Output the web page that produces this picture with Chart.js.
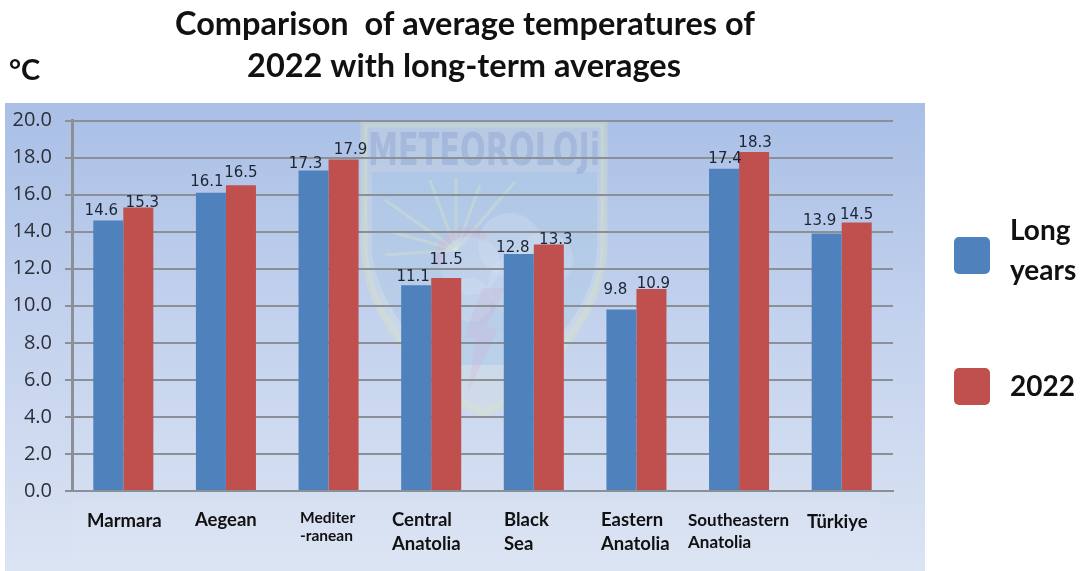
<!DOCTYPE html>
<html>
<head>
<meta charset="utf-8">
<title>Average temperatures 2022</title>
<script src="https://cdn.jsdelivr.net/npm/chart.js@4"></script>
<style>
  html, body { margin: 0; padding: 0; background: #fff; }
  #wrap { width: 1087px; height: 571px; }
</style>
</head>
<body>
<div id="wrap"><canvas id="bar-chart-grouped" width="1087" height="571"></canvas></div>
<script>
const categories = ["Marmara", "Aegean", "Mediter-ranean", "Central Anatolia", "Black Sea", "Eastern Anatolia", "Southeastern Anatolia", "Türkiye"];
const longYears = [14.6, 16.1, 17.3, 11.1, 12.8, 9.8, 17.4, 13.9];
const year2022 = [15.3, 16.5, 17.9, 11.5, 13.3, 10.9, 18.3, 14.5];
const seriesNames = ["Long years", "2022"];
const titleLines = ["Comparison  of average temperatures of", "2022 with long-term averages"];
const unitLabel = "°C";

const TEXT = "#111";
const LABEL_FONT = "Lato, sans-serif";

// hand-placed category captions, some wrap and some are smaller
const captions = [
  { lines: ["Marmara"], x: 87, y: [527], size: 18.5 },
  { lines: ["Aegean"], x: 195, y: [526], size: 18.5 },
  { lines: ["Mediter", "-ranean"], x: 300, y: [523, 541], size: 15.5 },
  { lines: ["Central", "Anatolia"], x: 392, y: [526, 550], size: 18.5 },
  { lines: ["Black", "Sea"], x: 504, y: [526, 550], size: 18.5 },
  { lines: ["Eastern", "Anatolia"], x: 601, y: [526, 550], size: 18.5 },
  { lines: ["Southeastern", "Anatolia"], x: 688, y: [526, 548], size: 17 },
  { lines: ["Türkiye"], x: 807, y: [528], size: 18.5 }
];

// value labels sit off the bar centre so neighbours don't collide
const labelNudgeX = [
  [-7, -4, -8, -3, -6, -6, 1, -7],
  [4, 0, 7, 0, 7, 2, 1, 0]
];
const labelLift = [
  [6, 7, 3, 4, 2, 15, 6, 9],
  [1, 8, 5, 14, 1, 1, 5, 3]
];

function drawPanel(ctx) {
  const g = ctx.createLinearGradient(0, 103, 0, 571);
  g.addColorStop(0, "#a9bfe6");
  g.addColorStop(0.45, "#c2d1ed");
  g.addColorStop(1, "#dbe4f3");
  ctx.fillStyle = g;
  ctx.fillRect(5, 103, 920, 468);
  ctx.fillStyle = "rgba(255,255,255,0.05)";
  ctx.fillRect(72, 500, 806, 58);
}

function drawEmblem(ctx) {
  ctx.save();
  const shield = new Path2D("M364 124 L604 124 L604 250 C600 320 540 385 484 415 C428 385 368 320 364 250 Z");
  ctx.fillStyle = "rgba(225,232,215,0.22)";
  ctx.fill(shield);
  ctx.strokeStyle = "rgba(222,228,190,0.35)";
  ctx.lineWidth = 7;
  ctx.stroke(shield);

  // sky behind the sun
  ctx.fillStyle = "rgba(150,190,235,0.30)";
  ctx.beginPath();
  ctx.moveTo(372, 172);
  ctx.lineTo(597, 172);
  ctx.lineTo(597, 250);
  ctx.bezierCurveTo(594, 300, 560, 340, 530, 365);
  ctx.lineTo(440, 365);
  ctx.bezierCurveTo(400, 330, 375, 290, 372, 250);
  ctx.closePath();
  ctx.fill();

  // rays
  ctx.strokeStyle = "rgba(232,236,190,0.28)";
  ctx.lineWidth = 3;
  [[385, 200], [430, 180], [456, 178], [480, 185], [515, 182], [392, 232], [385, 255]].forEach(p => {
    ctx.beginPath();
    ctx.moveTo(456, 250);
    ctx.lineTo(p[0], p[1]);
    ctx.stroke();
  });

  // cloud, sun arc and the bolt
  ctx.fillStyle = "rgba(215,225,242,0.30)";
  [[470, 265, 30], [510, 245, 32], [545, 260, 28], [520, 285, 32], [470, 300, 22]].forEach(c => {
    ctx.beginPath();
    ctx.arc(c[0], c[1], c[2], 0, Math.PI * 2);
    ctx.fill();
  });
  ctx.strokeStyle = "rgba(215,175,205,0.30)";
  ctx.lineWidth = 10;
  ctx.beginPath();
  ctx.arc(468, 262, 30, Math.PI * 0.95, Math.PI * 1.7);
  ctx.stroke();
  ctx.fillStyle = "rgba(215,170,205,0.22)";
  ctx.beginPath();
  ctx.moveTo(482, 288);
  ctx.lineTo(505, 288);
  ctx.lineTo(486, 328);
  ctx.lineTo(498, 328);
  ctx.lineTo(468, 392);
  ctx.lineTo(476, 338);
  ctx.lineTo(464, 338);
  ctx.closePath();
  ctx.fill();

  ctx.font = "bold 44px 'DejaVu Sans Condensed', 'DejaVu Sans', sans-serif";
  ctx.fillStyle = "rgba(135,160,210,0.42)";
  ctx.textAlign = "center";
  ctx.textBaseline = "alphabetic";
  ctx.fillText("METEOROLOJi", 484, 165, 232);
  ctx.restore();
}

// panel and emblem go under the grid, text and legend on top
const decorations = {
  id: "decorations",
  beforeDraw(chart) {
    const ctx = chart.ctx;
    drawPanel(ctx);
    drawEmblem(ctx);
  },
  afterDatasetsDraw(chart) {
    const ctx = chart.ctx;
    ctx.save();
    ctx.font = "15px 'DejaVu Sans', sans-serif";
    ctx.fillStyle = "#1d2433";
    ctx.textAlign = "center";
    ctx.textBaseline = "alphabetic";
    chart.data.datasets.forEach((ds, d) => {
      chart.getDatasetMeta(d).data.forEach((bar, i) => {
        ctx.fillText(ds.data[i].toFixed(1), bar.x + labelNudgeX[d][i], bar.y - labelLift[d][i]);
      });
    });
    ctx.restore();
  },
  afterDraw(chart) {
    const ctx = chart.ctx;
    ctx.save();
    ctx.fillStyle = TEXT;
    ctx.textBaseline = "alphabetic";

    ctx.textAlign = "center";
    ctx.font = "bold 32.5px " + LABEL_FONT;
    ctx.fillText(titleLines[0], 465, 35);
    ctx.fillText(titleLines[1], 464, 77);

    ctx.textAlign = "left";
    ctx.font = "bold 29px " + LABEL_FONT;
    ctx.fillText(unitLabel, 9, 80);

    captions.forEach(c => {
      ctx.font = "bold " + c.size + "px " + LABEL_FONT;
      c.lines.forEach((line, i) => ctx.fillText(line, c.x, c.y[i]));
    });

    // legend, "Long years" wraps onto two rows
    const swatches = [[954, 237], [954, 368]];
    chart.data.datasets.forEach((ds, d) => {
      ctx.fillStyle = ds.backgroundColor;
      ctx.beginPath();
      ctx.roundRect(swatches[d][0], swatches[d][1], 36, 37, 5);
      ctx.fill();
    });
    ctx.fillStyle = TEXT;
    ctx.font = "bold 28px " + LABEL_FONT;
    const nameParts = seriesNames[0].split(" ");
    ctx.fillText(nameParts[0], 1010, 240);
    ctx.fillText(nameParts[1], 1010, 280);
    ctx.fillText(seriesNames[1], 1010, 396);
    ctx.restore();
  }
};

new Chart(document.getElementById("bar-chart-grouped"), {
  type: "bar",
  data: {
    labels: categories,
    datasets: [
      { label: seriesNames[0], backgroundColor: "#4f81bd", data: longYears },
      { label: seriesNames[1], backgroundColor: "#c0504d", data: year2022 }
    ]
  },
  options: {
    responsive: false,
    animation: false,
    layout: { padding: { top: 120.5, right: 194, bottom: 0, left: 0 } },
    datasets: { bar: { barPercentage: 1, categoryPercentage: 0.585 } },
    plugins: {
      legend: { display: false },
      title: { display: false },
      tooltip: { enabled: false }
    },
    scales: {
      x: {
        afterFit(scale) { scale.height = 80; },
        grid: { display: false },
        border: { color: "#8b8f96", width: 2 },
        ticks: { display: false }
      },
      y: {
        min: 0,
        max: 20,
        afterFit(scale) { scale.width = 72; },
        grid: { color: "#8b8f96", lineWidth: 2, tickLength: 7 },
        border: { color: "#8b8f96", width: 3 },
        ticks: {
          stepSize: 2,
          padding: 13,
          color: "#2b2f38",
          font: { family: "'Open Sans', sans-serif", size: 20 },
          callback: v => v.toFixed(1)
        }
      }
    }
  },
  plugins: [decorations]
});
</script>
</body>
</html>
